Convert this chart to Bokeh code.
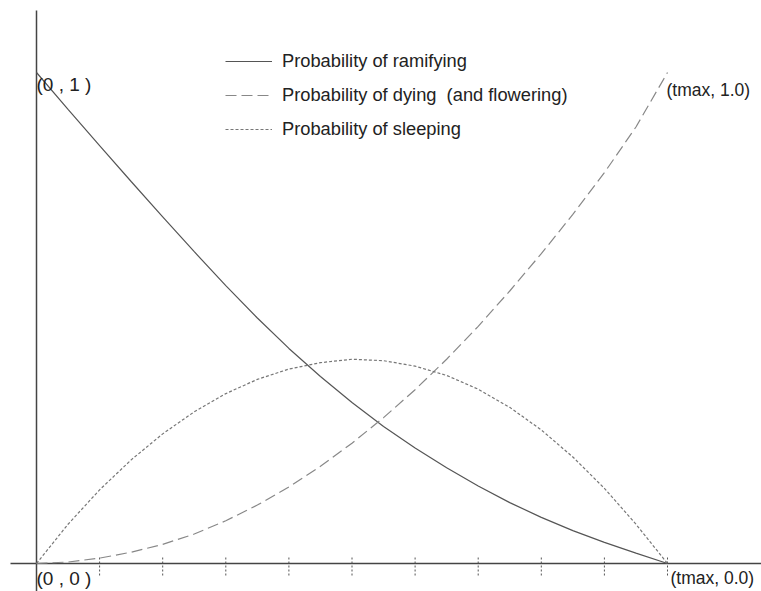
from bokeh.plotting import figure
from bokeh.models import Legend, LegendItem, Range1d
from bokeh.embed import file_html
from bokeh.resources import INLINE
from bokeh.core.properties import value

# ---------------- data ----------------
t = [0, 0.5, 1, 1.5, 2, 2.5, 3, 3.5, 4, 4.5, 5,
     5.5, 6, 6.5, 7, 7.5, 8, 8.5, 9, 9.5, 10]
ramifying = [1.0, 0.925, 0.851, 0.778, 0.706, 0.635, 0.566, 0.500, 0.438, 0.381, 0.328,
             0.279, 0.235, 0.195, 0.158, 0.124, 0.094, 0.067, 0.043, 0.021, 0.0]
dying = [0.0, 0.003, 0.011, 0.023, 0.039, 0.060, 0.087, 0.119, 0.156, 0.198, 0.245,
         0.297, 0.354, 0.416, 0.483, 0.555, 0.631, 0.711, 0.796, 0.889, 1.0]
sleeping = [0.0, 0.080, 0.150, 0.211, 0.264, 0.309, 0.346, 0.375, 0.396, 0.409, 0.416,
            0.413, 0.402, 0.383, 0.355, 0.318, 0.272, 0.217, 0.153, 0.080, 0.0]
tick_positions = [1, 2, 3, 4, 5, 6, 7, 8, 9, 10]
series_names = ["Probability of ramifying",
                "Probability of dying  (and flowering)",
                "Probability of sleeping"]
point_labels = ["(0 , 1 )", "(0 , 0 )", "(tmax, 0.0)", "(tmax, 1.0)"]
label_t = [0, 0, 10, 10]
label_p = [1, 0, 0, 1]

# ---------------- layout ----------------
W, H = 761, 591
X0_PX, PX_PER_T = 36, 63.1      # frame pixel of t=0, pixels per t unit
Y0_PX, PX_PER_P = 28, 491       # frame pixel (from bottom) of p=0, pixels per unit
x_start = -X0_PX / PX_PER_T
x_end = x_start + W / PX_PER_T
y_start = -Y0_PX / PX_PER_P
y_end = y_start + H / PX_PER_P

FONT = "Liberation Sans"

p = figure(width=W, height=H,
           x_range=Range1d(x_start, x_end),
           y_range=Range1d(y_start, y_end),
           x_axis_type=None, y_axis_type=None,
           output_backend="svg", toolbar_location=None,
           min_border=0, outline_line_color=None)
p.grid.visible = False

# axis lines (start ~10px in from the top / left edge, like the reference)
gap_t, gap_p = 10 / PX_PER_T, 10 / PX_PER_P
p.segment(x0=[0, x_start + gap_t], y0=[y_end - gap_p, 0],
          x1=[0, x_end], y1=[y_start, 0],
          line_color="#444", line_width=1.5)

# dashed tick marks
up, down = 6 / PX_PER_P, 14 / PX_PER_P
p.segment(x0=tick_positions, y0=[up] * len(tick_positions),
          x1=tick_positions, y1=[-down] * len(tick_positions),
          line_color="#555", line_width=1, line_dash="2 2")

# curves
r_ram = p.line(t, ramifying, line_color="#555", line_width=1.2)
r_dye = p.line(t, dying, line_color="#888", line_width=1.2, line_dash="11 5")
r_slp = p.line(t, sleeping, line_color="#777", line_width=1.2, line_dash="3 2")

# legend
legend = Legend(items=[LegendItem(label=series_names[0], renderers=[r_ram]),
                       LegendItem(label=series_names[1], renderers=[r_dye]),
                       LegendItem(label=series_names[2], renderers=[r_slp])],
                location=(225, 450), orientation="vertical",
                glyph_width=47, glyph_height=24, label_height=24,
                spacing=10, padding=0, margin=0, label_standoff=10,
                border_line_alpha=0, background_fill_alpha=0,
                label_text_font=FONT, label_text_font_size="18.3px",
                label_text_color="#222")
p.add_layout(legend)

# corner labels
offsets = [(0, 11.5, "19px"), (0, 14.5, "19px"), (3, 14.5, "17.5px"), (-1, 17.7, "17.5px")]
for i, (dx, dy, fs) in enumerate(offsets):
    p.text(x=[label_t[i]], y=[label_p[i]], text=[point_labels[i]],
           x_offset=dx, y_offset=dy, text_baseline="middle", text_align="left",
           text_font=value(FONT), text_font_size=fs, text_color="#222")

open("out.html", "w").write(file_html(p, INLINE))
